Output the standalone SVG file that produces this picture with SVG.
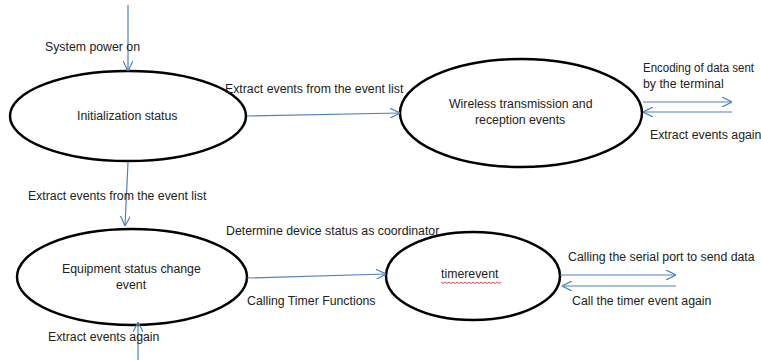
<svg xmlns="http://www.w3.org/2000/svg" width="761" height="360" viewBox="0 0 761 360">
<style>
  .node ellipse { fill: #ffffff; stroke: #000000; stroke-width: 2.5; }
  .conn line { stroke: #4f81bd; stroke-width: 1.2; fill: none; marker-end: url(#arr); }
  text { font-family: "Liberation Sans", Arial, sans-serif; font-size: 12.3px; fill: #222222; }
</style>
<defs>
  <marker id="arr" viewBox="0 0 10 10" refX="10" refY="5" markerWidth="10" markerHeight="10" markerUnits="userSpaceOnUse" orient="auto">
    <path d="M0,0 L10,5 L0,10" fill="none" stroke="#4f81bd" stroke-width="1.2"/>
  </marker>
</defs>
<rect width="761" height="360" fill="#ffffff"/>

<g id="node-init" class="node">
  <ellipse cx="128" cy="116" rx="118" ry="45"/>
  <text x="77" y="120">Initialization status</text>
</g>
<g id="node-wireless" class="node">
  <ellipse cx="521" cy="113" rx="121" ry="54"/>
  <text x="449" y="108">Wireless transmission and</text>
  <text x="475" y="124">reception events</text>
</g>
<g id="node-equipment" class="node">
  <ellipse cx="132" cy="277" rx="115" ry="48"/>
  <text x="62" y="273">Equipment status change</text>
  <text x="116" y="289">event</text>
</g>
<g id="node-timer" class="node">
  <ellipse cx="473" cy="276" rx="87" ry="44"/>
  <text x="441" y="278">timerevent</text>
  <path d="M441,282 l2,1.5 l2,-1.5 l2,1.5 l2,-1.5 l2,1.5 l2,-1.5 l2,1.5 l2,-1.5 l2,1.5 l2,-1.5 l2,1.5 l2,-1.5 l2,1.5 l2,-1.5 l2,1.5 l2,-1.5 l2,1.5 l2,-1.5 l2,1.5 l2,-1.5 l2,1.5 l2,-1.5 l2,1.5 l2,-1.5 l2,1.5 l2,-1.5 l2,1.5 l2,-1.5 l2,1.5 l2,-1.5" fill="none" stroke="#e02020" stroke-width="0.8"/>
</g>

<g id="connectors" class="conn">
  <line x1="128" y1="5" x2="128" y2="71"/>
  <line x1="247" y1="116" x2="400" y2="113"/>
  <line x1="128" y1="162" x2="125" y2="226"/>
  <line x1="643" y1="102" x2="732" y2="102"/>
  <line x1="732" y1="112" x2="643" y2="112"/>
  <line x1="247" y1="278" x2="386" y2="274"/>
  <line x1="560" y1="275" x2="676" y2="275"/>
  <line x1="676" y1="286" x2="562" y2="286"/>
  <line x1="138" y1="360" x2="138" y2="322"/>
</g>

<g id="labels">
  <text x="45" y="51">System power on</text>
  <text x="225" y="93">Extract events from the event list</text>
  <text x="643" y="72" textLength="111" lengthAdjust="spacingAndGlyphs">Encoding of data sent</text>
  <text x="643" y="88">by the terminal</text>
  <text x="650" y="139">Extract events again</text>
  <text x="28" y="200">Extract events from the event list</text>
  <text x="226" y="235">Determine device status as coordinator</text>
  <text x="247" y="305">Calling Timer Functions</text>
  <text x="568" y="261">Calling the serial port to send data</text>
  <text x="572" y="305">Call the timer event again</text>
  <text x="48" y="341">Extract events again</text>
</g>
</svg>
